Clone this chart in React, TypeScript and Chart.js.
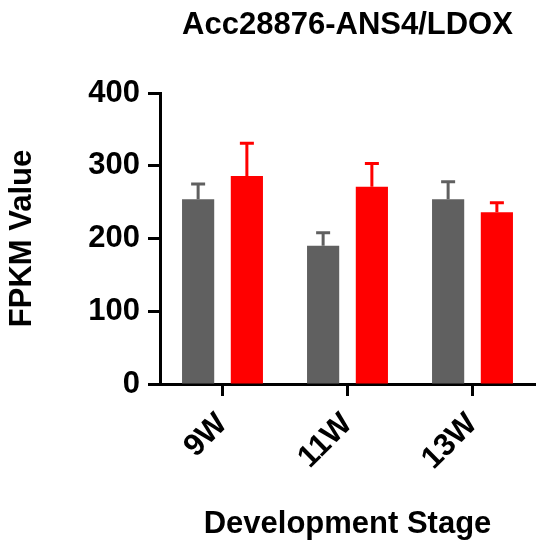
import { useEffect, useRef } from 'react';
import { Chart, registerables } from 'chart.js';

Chart.register(...registerables);

const stages = ['9W', '11W', '13W'];
const grayValues = [254, 190, 254];
const grayErrors = [21, 18, 24];
const redValues = [286, 271, 236];
const redErrors = [45, 32, 13];
const yTicks = [0, 100, 200, 300, 400];

const FONT = '"Liberation Sans", Arial, sans-serif';

// draws upward-only error bars with a short cap, like Prism does
const errorBars = {
  id: 'errorBars',
  afterDatasetsDraw(chart: any) {
    const { ctx } = chart;
    const yScale = chart.scales.y;
    chart.data.datasets.forEach((ds: any, i: number) => {
      const meta = chart.getDatasetMeta(i);
      meta.data.forEach((bar: any, j: number) => {
        const top = yScale.getPixelForValue(ds.data[j] + ds.errors[j]);
        ctx.save();
        ctx.strokeStyle = ds.backgroundColor;
        ctx.lineWidth = 3;
        ctx.beginPath();
        ctx.moveTo(bar.x, bar.y);
        ctx.lineTo(bar.x, top);
        ctx.moveTo(bar.x - 7, top);
        ctx.lineTo(bar.x + 7, top);
        ctx.stroke();
        ctx.restore();
      });
    });
  },
};

export default function App() {
  const chartRef = useRef<HTMLCanvasElement>(null);

  useEffect(() => {
    document.body.style.margin = '0';
    if (!chartRef.current) return;

    const chart = new Chart(chartRef.current, {
      type: 'bar',
      data: {
        labels: stages,
        datasets: [
          {
            label: 'Series 1',
            data: grayValues,
            errors: grayErrors,
            backgroundColor: '#606060',
            categoryPercentage: 0.78,
            barPercentage: 0.66,
          } as any,
          {
            label: 'Series 2',
            data: redValues,
            errors: redErrors,
            backgroundColor: '#ff0000',
            categoryPercentage: 0.78,
            barPercentage: 0.66,
          } as any,
        ],
      },
      options: {
        responsive: true,
        maintainAspectRatio: false,
        animation: false,
        layout: { padding: { right: 15 } },
        plugins: {
          legend: { display: false },
          tooltip: { enabled: false },
          title: {
            display: true,
            text: 'Acc28876-ANS4/LDOX',
            color: '#000',
            fullSize: false,
            font: { family: FONT, size: 31, weight: 'bold', lineHeight: 1 },
            padding: { top: 10, bottom: 52 },
          },
        },
        scales: {
          x: {
            afterFit: (scale: any) => {
              scale.height = 168;
            },
            border: { color: '#000', width: 3 },
            grid: {
              offset: false,
              drawOnChartArea: false,
              tickLength: 12,
              tickWidth: 3,
              tickColor: '#000',
            },
            ticks: {
              color: '#000',
              minRotation: 45,
              maxRotation: 45,
              padding: 10,
              font: { family: FONT, size: 31, weight: 'bold' },
            },
            title: {
              display: true,
              text: 'Development Stage',
              color: '#000',
              font: { family: FONT, size: 31, weight: 'bold', lineHeight: 1 },
              padding: { top: 0, bottom: 12 },
            },
          },
          y: {
            min: 0,
            max: 400,
            afterFit: (scale: any) => {
              scale.width = 160;
            },
            afterBuildTicks: (scale: any) => {
              scale.ticks = yTicks.map((v) => ({ value: v }));
            },
            border: { color: '#000', width: 3 },
            grid: {
              drawOnChartArea: false,
              tickLength: 12,
              tickWidth: 3,
              tickColor: '#000',
            },
            ticks: {
              color: '#000',
              padding: 8,
              font: { family: FONT, size: 31, weight: 'bold' },
            },
            title: {
              display: true,
              text: 'FPKM Value',
              color: '#000',
              font: { family: FONT, size: 31, weight: 'bold', lineHeight: 1 },
              padding: { top: 7, bottom: 0 },
            },
          },
        },
      },
      plugins: [errorBars],
    });

    return () => chart.destroy();
  }, []);

  return (
    <div style={{ position: 'relative', width: 550, height: 552, background: '#fff' }}>
      <canvas ref={chartRef} />
    </div>
  );
}
